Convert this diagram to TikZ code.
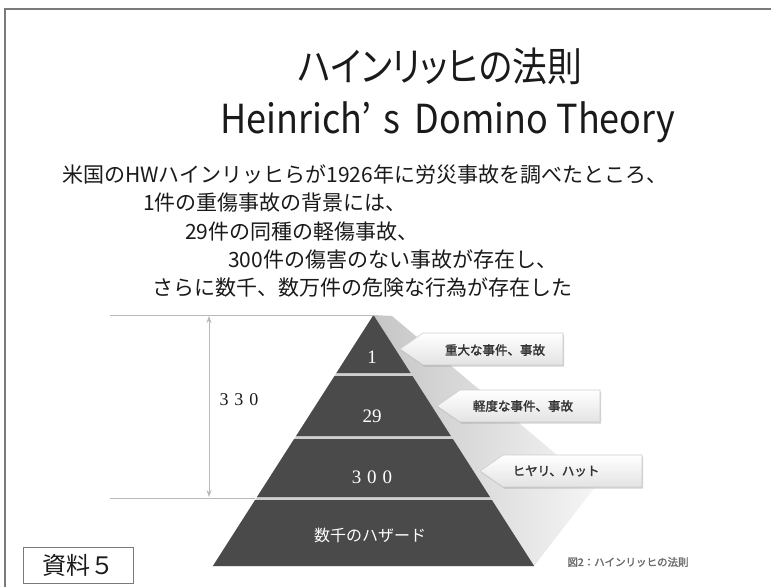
\documentclass[tikz,border=0pt]{standalone}
\usepackage{fontspec}
\setmainfont{Noto Sans CJK JP}[AutoFakeBold=2]
\newfontfamily\jp{Noto Sans CJK JP}[AutoFakeBold=2]
\newfontfamily\jpp{Noto Sans CJK JP}[RawFeature=+palt]
\newfontfamily\numserif{Liberation Serif}
\usetikzlibrary{arrows.meta,shadows}
\definecolor{framecol}{HTML}{7A7A7A}
\definecolor{tiercol}{HTML}{4A4A4A}
\definecolor{gapcol}{HTML}{CFCFCF}
\definecolor{txtcol}{HTML}{1A1A1A}
\tikzset{
  bodytext/.style={anchor=west, inner sep=0pt, text=txtcol, font=\jp\fontsize{21}{24}\selectfont},
  titletext/.style={text=txtcol, inner sep=0pt},
  tier/.style={fill=tiercol},
  tiertext/.style={text=white, inner sep=0pt},
  callout/.style={top color=white, bottom color=gray!22, draw=gray!40, line width=0.6pt,
     drop shadow={shadow xshift=1.2pt, shadow yshift=-1.5pt, opacity=0.35, fill=gray}},
  callouttext/.style={text=black!80, inner sep=0pt, font=\jp\bfseries\fontsize{12.5}{14}\selectfont},
  guide/.style={draw=gray!55, line width=0.8pt},
}
\begin{document}
\begin{tikzpicture}[x=1pt,y=-1pt]
\useasboundingbox (0,0) rectangle (771,587);
\fill[white] (0,0) rectangle (771,587);
\draw[framecol, line width=1.6pt] (5,587) -- (5,9) -- (771,9);

% titles
\node[titletext] (title1) at (440,66) {\scalebox{0.87}[1]{\jpp\fontsize{40}{44}\selectfont ハインリッヒの法則}};
\node[titletext] (title2) at (448,122) {\scalebox{0.9}[1]{\jpp\fontsize{40}{44}\selectfont Heinrich’\,\,s\, Domino Theory}};

% body
\node[bodytext] (l1) at (62,175) {米国のHWハインリッヒらが1926年に労災事故を調べたところ、};
\node[bodytext] (l2) at (143,203) {1件の重傷事故の背景には、};
\node[bodytext] (l3) at (185,232) {29件の同種の軽傷事故、};
\node[bodytext] (l4) at (228,260) {300件の傷害のない事故が存在し、};
\node[bodytext] (l5) at (152,288) {さらに数千、数万件の危険な行為が存在した};

% shadow behind pyramid
\shade[left color=gray!45, right color=gray!8] (373.5,315) -- (392,316) -- (595,487) -- (534,566) -- cycle;

% pyramid
\fill[gapcol] (373.5,315) -- (534.1,566) -- (212.9,566) -- cycle;
\fill[tier] (373.5,315) -- (410.6,373) -- (336.4,373) -- cycle;
\fill[tier] (334.5,376) -- (412.5,376) -- (450.9,436) -- (296.1,436) -- cycle;
\fill[tier] (294.1,439) -- (452.9,439) -- (490.0,497) -- (257.0,497) -- cycle;
\fill[tier] (255.1,500) -- (491.9,500) -- (534.1,566) -- (212.9,566) -- cycle;

\node[tiertext] (n1) at (372,357) {\numserif\fontsize{19}{20}\selectfont 1};
\node[tiertext] (n29) at (372,416) {\numserif\fontsize{19}{20}\selectfont 29};
\node[tiertext] (n300) at (372,477) {\numserif\fontsize{19}{20}\selectfont 3\hspace{6pt}0\hspace{6pt}0};
\node[tiertext] (nhaz) at (370,535) {\jp\fontsize{16}{18}\selectfont 数千のハザード};

% dimension
\coordinate (gtopL) at (110,315);
\coordinate (gtopR) at (373.5,315);
\coordinate (gbotL) at (110,498);
\coordinate (gbotR) at (255,498);
\coordinate (dimtop) at (209,316);
\coordinate (dimbot) at (209,497);
\draw[guide] (gtopL) -- (gtopR);
\draw[guide] (gbotL) -- (gbotR);
\draw[guide, {Stealth[length=7pt,width=5pt]}-{Stealth[length=7pt,width=5pt]}] (dimtop) -- (dimbot);
\node[text=txtcol, inner sep=0pt] (n330) at (239,400) {\numserif\fontsize{18}{20}\selectfont 3\hspace{6pt}3\hspace{6pt}0};

% callouts
\path[callout] (400,349) -- (423,333) -- (563,333) -- (563,365) -- (423,365) -- cycle;
\node[callouttext] (c1) at (495,350) {重大な事件、事故};
\path[callout] (437,406) -- (460,390) -- (600,390) -- (600,422) -- (460,422) -- cycle;
\node[callouttext] (c2) at (523,406) {軽度な事件、事故};
\path[callout] (480,471) -- (503,455) -- (642,455) -- (642,487) -- (503,487) -- cycle;
\node[callouttext] (c3) at (556,471) {ヒヤリ、ハット};

% caption
\node[text=gray!85!black, inner sep=0pt] (cap) at (628,562) {\jp\bfseries\fontsize{10.5}{12}\selectfont 図2：ハインリッヒの法則};

% label box
\node[draw=framecol, line width=1pt, minimum width=110pt, minimum height=36pt, inner sep=0pt, text=txtcol] (shiryo) at (78,565) {\jp\fontsize{24}{26}\selectfont 資料５};
\end{tikzpicture}
\end{document}
